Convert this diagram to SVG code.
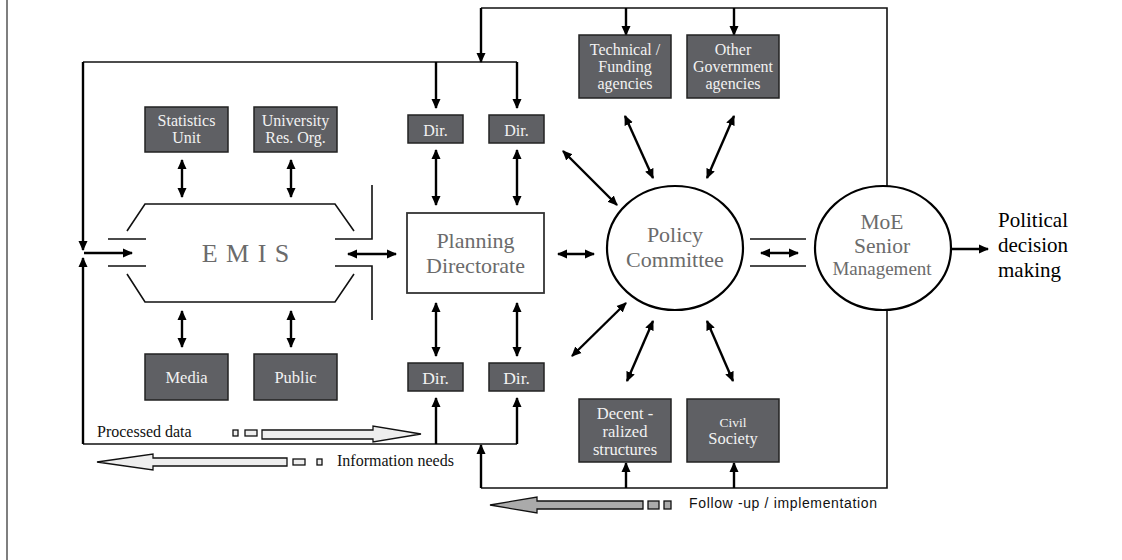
<svg xmlns="http://www.w3.org/2000/svg" width="1122" height="560" viewBox="0 0 1122 560">
<style>
.box{fill:#5f6064;stroke:#222;stroke-width:1.5}
.bt{fill:#f2f2f2;font-family:'Liberation Serif','Times New Roman',serif;font-size:16px;text-anchor:middle}
.gt{fill:#6b6b6b;font-family:'Liberation Serif','Times New Roman',serif;font-size:22px;text-anchor:middle}
.bk{fill:#000;font-family:'Liberation Serif','Times New Roman',serif;font-size:21px}
.ln{stroke:#111;stroke-width:1.6;fill:none}
.ar{stroke:#000;stroke-width:2.4;fill:none}
.bar{stroke:#111;stroke-width:1.3}
.lbl{fill:#111;font-family:'Liberation Serif','Times New Roman',serif;font-size:16px}
.sans{fill:#111;font-family:'Liberation Sans',Arial,sans-serif;font-size:14px}
</style>
<defs>
<marker id="ah" viewBox="0 0 10 10" refX="9" refY="5" markerWidth="10" markerHeight="10" markerUnits="userSpaceOnUse" orient="auto-start-reverse"><path d="M0,0.5 L10,5 L0,9.5 z" fill="#000"/></marker>
</defs>
<rect width="1122" height="560" fill="#fff"/>
<line x1="7" y1="0" x2="7" y2="560" stroke="#555" stroke-width="1.5"/>

<g id="connectors">
  <path class="ln" d="M83,62 H517"/>
  <path class="ln" d="M481,8 H887 V186"/>
  <path class="ln" d="M887,310 V488 H481"/>
  <path class="ln" d="M83,444 H517"/>
  <path class="ln" d="M372,185 V239 H335"/>
  <path class="ln" d="M372,320 V266 H335"/>
  <path class="ln" d="M750,239 H806 M750,266 H806"/>
  <line class="ar" x1="83" y1="62" x2="83" y2="250" marker-end="url(#ah)"/>
  <line class="ar" x1="83" y1="444" x2="83" y2="258" marker-end="url(#ah)"/>
  <line class="ar" x1="84" y1="253" x2="132" y2="253" stroke-width="1.8" marker-end="url(#ah)"/>
  <line class="ar" x1="481" y1="8" x2="481" y2="62" marker-end="url(#ah)"/>
  <line class="ar" x1="626" y1="8" x2="626" y2="35" marker-end="url(#ah)"/>
  <line class="ar" x1="734" y1="8" x2="734" y2="35" marker-end="url(#ah)"/>
  <line class="ar" x1="436" y1="62" x2="436" y2="108" marker-end="url(#ah)"/>
  <line class="ar" x1="517" y1="62" x2="517" y2="108" marker-end="url(#ah)"/>
  <line class="ar" x1="436" y1="444" x2="436" y2="398" marker-end="url(#ah)"/>
  <line class="ar" x1="517" y1="444" x2="517" y2="398" marker-end="url(#ah)"/>
  <line class="ar" x1="481" y1="488" x2="481" y2="445" marker-end="url(#ah)"/>
  <line class="ar" x1="626" y1="488" x2="626" y2="463" marker-end="url(#ah)"/>
  <line class="ar" x1="734" y1="488" x2="734" y2="463" marker-end="url(#ah)"/>
  <line class="ar" x1="182" y1="160" x2="182" y2="197" marker-start="url(#ah)" marker-end="url(#ah)"/>
  <line class="ar" x1="291" y1="160" x2="291" y2="197" marker-start="url(#ah)" marker-end="url(#ah)"/>
  <line class="ar" x1="182" y1="311" x2="182" y2="347" marker-start="url(#ah)" marker-end="url(#ah)"/>
  <line class="ar" x1="291" y1="311" x2="291" y2="347" marker-start="url(#ah)" marker-end="url(#ah)"/>
  <line class="ar" x1="348" y1="254" x2="396" y2="254" marker-start="url(#ah)" marker-end="url(#ah)"/>
  <line class="ar" x1="436" y1="150" x2="436" y2="205" marker-start="url(#ah)" marker-end="url(#ah)"/>
  <line class="ar" x1="517" y1="150" x2="517" y2="205" marker-start="url(#ah)" marker-end="url(#ah)"/>
  <line class="ar" x1="436" y1="303" x2="436" y2="356" marker-start="url(#ah)" marker-end="url(#ah)"/>
  <line class="ar" x1="517" y1="303" x2="517" y2="356" marker-start="url(#ah)" marker-end="url(#ah)"/>
  <line class="ar" x1="558" y1="254" x2="594" y2="254" marker-start="url(#ah)" marker-end="url(#ah)"/>
  <line class="ar" x1="761" y1="253" x2="798" y2="253" marker-start="url(#ah)" marker-end="url(#ah)"/>
  <line class="ar" x1="563" y1="151" x2="617" y2="205" marker-start="url(#ah)" marker-end="url(#ah)"/>
  <line class="ar" x1="625" y1="116" x2="653" y2="178" marker-start="url(#ah)" marker-end="url(#ah)"/>
  <line class="ar" x1="734" y1="116" x2="707" y2="178" marker-start="url(#ah)" marker-end="url(#ah)"/>
  <line class="ar" x1="626" y1="303" x2="572" y2="356" marker-start="url(#ah)" marker-end="url(#ah)"/>
  <line class="ar" x1="653" y1="321" x2="627" y2="381" marker-start="url(#ah)" marker-end="url(#ah)"/>
  <line class="ar" x1="707" y1="321" x2="733" y2="381" marker-start="url(#ah)" marker-end="url(#ah)"/>
  <line class="ar" x1="951" y1="249" x2="988" y2="249" stroke-width="3" marker-end="url(#ah)"/>
</g>

<g id="emis">
  <path class="ln" d="M127,231 L145,204 H335 L354,231"/>
  <path class="ln" d="M127,274 L145,302 H335 L354,274"/>
  <path class="ln" d="M108,239 H146 M108,266 H146"/>
  <text class="gt" x="246" y="262" style="font-size:26px" letter-spacing="1">E M I S</text>
</g>

<g id="statistics-unit"><rect class="box" x="145" y="107" width="83" height="45"/><text class="bt" x="186.5" y="126">Statistics</text><text class="bt" x="186.5" y="143">Unit</text></g>
<g id="university"><rect class="box" x="254" y="107" width="83" height="45"/><text class="bt" x="295.5" y="126">University</text><text class="bt" x="295.5" y="143">Res. Org.</text></g>
<g id="media"><rect class="box" x="145" y="354" width="83" height="46"/><text class="bt" x="186.5" y="383" style="font-size:16.5px">Media</text></g>
<g id="public"><rect class="box" x="254" y="354" width="83" height="46"/><text class="bt" x="295.5" y="383" style="font-size:16.5px">Public</text></g>

<g id="dir-top-1"><rect class="box" x="408" y="115" width="55" height="28"/><text class="bt" x="435.5" y="136">Dir.</text></g>
<g id="dir-top-2"><rect class="box" x="489" y="115" width="55" height="28"/><text class="bt" x="516.5" y="136">Dir.</text></g>
<g id="dir-bot-1"><rect class="box" x="408" y="363" width="55" height="28"/><text class="bt" x="435.5" y="384" style="font-size:17.5px">Dir.</text></g>
<g id="dir-bot-2"><rect class="box" x="489" y="363" width="55" height="28"/><text class="bt" x="516.5" y="384" style="font-size:17.5px">Dir.</text></g>

<g id="planning"><rect x="407" y="213" width="137" height="80" fill="#fff" stroke="#333" stroke-width="1.8"/><text class="gt" x="475.5" y="248">Planning</text><text class="gt" x="475.5" y="273">Directorate</text></g>

<g id="technical"><rect class="box" x="579" y="35" width="92" height="63"/><text class="bt" x="625" y="55">Technical /</text><text class="bt" x="625" y="72">Funding</text><text class="bt" x="625" y="89">agencies</text></g>
<g id="other-gov"><rect class="box" x="687" y="35" width="92" height="63"/><text class="bt" x="733" y="55">Other</text><text class="bt" x="733" y="72">Government</text><text class="bt" x="733" y="89">agencies</text></g>
<g id="decentralized"><rect class="box" x="579" y="399" width="92" height="63"/><text class="bt" x="625" y="419" style="font-size:16.5px">Decent -</text><text class="bt" x="625" y="437" style="font-size:16.5px">ralized</text><text class="bt" x="625" y="455" style="font-size:16.5px">structures</text></g>
<g id="civil"><rect class="box" x="687" y="399" width="92" height="63"/><text class="bt" x="733" y="427" style="font-size:13.5px">Civil</text><text class="bt" x="733" y="444" style="font-size:16.5px">Society</text></g>

<g id="policy"><ellipse cx="675" cy="248" rx="68" ry="62" fill="#fff" stroke="#000" stroke-width="2.2"/><text class="gt" x="675" y="242">Policy</text><text class="gt" x="675" y="267">Committee</text></g>
<g id="moe"><ellipse cx="883" cy="248" rx="68" ry="62" fill="#fff" stroke="#000" stroke-width="2.2"/><text class="gt" x="882" y="229" style="font-size:21.5px">MoE</text><text class="gt" x="882" y="253" style="font-size:21.5px">Senior</text><text class="gt" x="882" y="275" style="font-size:19px">Management</text></g>

<g id="political">
  <text class="bk" x="998" y="227">Political</text>
  <text class="bk" x="998" y="252">decision</text>
  <text class="bk" x="998" y="277">making</text>
</g>

<g id="processed-data">
  <text class="lbl" x="97" y="437">Processed data</text>
  <rect class="bar" x="233" y="430" width="5" height="6" fill="#eee"/>
  <rect class="bar" x="245" y="430" width="12" height="6" fill="#eee"/>
  <polygon class="bar" points="262,430 373,430 373,426 421,434 373,442 373,439 262,439" fill="#eee"/>
</g>
<g id="information-needs">
  <polygon class="bar" points="287,458 153,458 153,454 97,462 153,470 153,466 287,466" fill="#eee"/>
  <rect class="bar" x="293" y="459" width="12" height="6" fill="#eee"/>
  <rect class="bar" x="317" y="459" width="5" height="6" fill="#eee"/>
  <text class="lbl" x="337" y="466">Information needs</text>
</g>
<g id="follow-up">
  <polygon class="bar" points="643,501 537,501 537,497 490,505 537,513 537,509 643,509" fill="#aaa"/>
  <rect class="bar" x="648" y="501" width="11" height="8" fill="#aaa"/>
  <rect class="bar" x="664" y="501" width="7" height="8" fill="#aaa"/>
  <text class="sans" x="689" y="508" textLength="188">Follow -up / implementation</text>
</g>
</svg>
